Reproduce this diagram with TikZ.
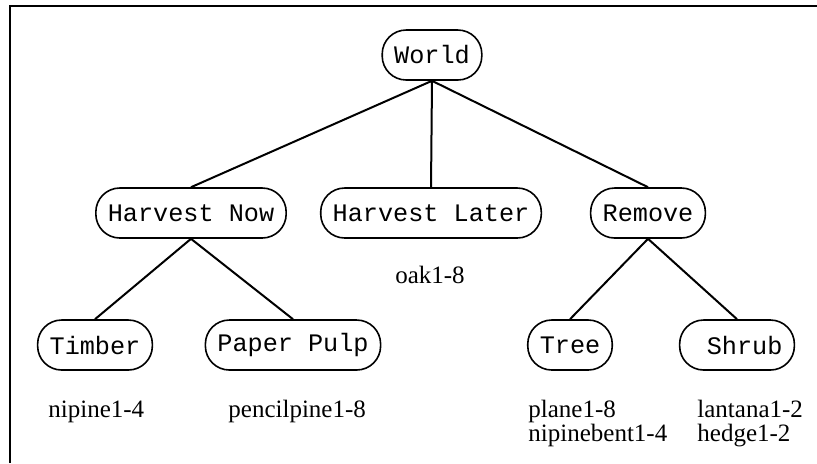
\documentclass[tikz,border=0pt]{standalone}
\usepackage{fontspec}
\setmainfont{Liberation Serif}
\setmonofont{Liberation Mono}
\begin{document}
\begin{tikzpicture}[x=0.5pt, y=-0.5pt,
  choice/.style={draw=black, line width=0.8pt, rounded corners=12pt, minimum height=25pt,
    inner xsep=6pt, font=\fontsize{12.6}{14}\ttfamily},
  leaf/.style={anchor=base west, inner sep=0pt, font=\fontsize{12.5}{15}\selectfont},
  branch/.style={draw=black, line width=1pt}]
  \useasboundingbox (0,0) rectangle (817,463);
  \path[draw=black, line width=1pt] (10,463) -- (10,6) -- (817,6);

  \node[choice] (world)  at (432,55)  {World};
  \node[choice] (hnow)   at (191,213) {Harvest Now};
  \node[choice] (hlater) at (431,213) {Harvest Later};
  \node[choice] (remove) at (648,213) {Remove};
  \node[choice] (timber) at (95,345)  {Timber};
  \node[choice] (pulp)   at (293,345) {Paper Pulp};
  \node[choice] (tree)   at (570,345) {Tree};
  \node[choice, minimum width=52pt] (shrub) at (737,345) {\ Shrub};

  \path[branch] (world.south) -- (hnow.north)
    (world.south) -- (hlater.north)
    (world.south) -- (remove.north);
  \path[branch] (hnow.south) -- (timber.north)
    (hnow.south) -- (pulp.north);
  \path[branch] (remove.south) -- (tree.north)
    (remove.south) -- (shrub.north);

  \node[leaf, anchor=base] (oak) at (430,283) {oak1-8};
  \node[leaf] (nipine)     at (48,417)  {nipine1-4};
  \node[leaf] (pencil)     at (228,417) {pencilpine1-8};
  \node[leaf] (plane)      at (528,417) {plane1-8};
  \node[leaf] (nipinebent) at (528,441) {nipinebent1-4};
  \node[leaf] (lantana)    at (697,417) {lantana1-2};
  \node[leaf] (hedge)      at (697,441) {hedge1-2};
\end{tikzpicture}
\end{document}
